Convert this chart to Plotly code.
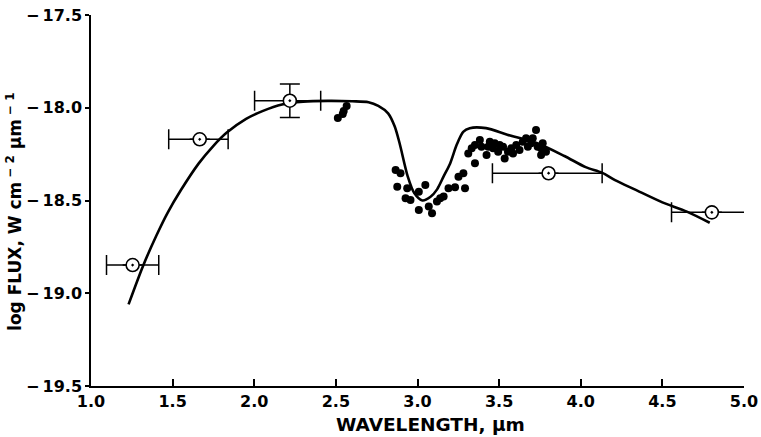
import plotly.graph_objects as go

# Photometric points (open circles with error bars)
phot_x = [1.255, 1.666, 2.218, 3.803, 4.803]
phot_y = [-18.848, -18.170, -17.962, -18.353, -18.564]
phot_xerr_minus = [0.16, 0.19, 0.216, 0.344, 0.247]
phot_xerr_plus = [0.16, 0.174, 0.189, 0.328, 0.30]
phot_yerr = [0.0, 0.0, 0.09, 0.0, 0.0]

# Spectroscopic points (filled dots)
spec_x = [2.566, 2.548, 2.542, 2.512,
          2.866, 2.896, 2.876, 2.937, 2.927, 2.957, 3.008, 3.048, 3.008, 3.069,
          3.089, 3.119, 3.139, 3.160, 3.190, 3.230, 3.251, 3.281, 3.291, 3.352,
          3.311, 3.332, 3.352, 3.382, 3.392, 3.423, 3.433, 3.443, 3.463, 3.473,
          3.494, 3.503, 3.524, 3.534, 3.554, 3.574, 3.585, 3.605, 3.625, 3.645,
          3.665, 3.676, 3.696, 3.706, 3.726, 3.736, 3.757, 3.767, 3.757, 3.787]
spec_y = [-17.991, -18.018, -18.034, -18.055,
          -18.336, -18.353, -18.426, -18.434, -18.488, -18.497, -18.453, -18.416, -18.551, -18.533,
          -18.569, -18.506, -18.488, -18.479, -18.434, -18.429, -18.372, -18.353, -18.434, -18.299,
          -18.246, -18.219, -18.201, -18.174, -18.210, -18.255, -18.210, -18.183, -18.219, -18.192,
          -18.237, -18.201, -18.210, -18.273, -18.237, -18.219, -18.246, -18.201, -18.228, -18.183,
          -18.165, -18.210, -18.192, -18.165, -18.120, -18.210, -18.219, -18.192, -18.255, -18.237]

# Model curve
model_x = [1.23, 1.32, 1.40, 1.47, 1.55, 1.66, 1.75, 1.83, 1.95, 2.05, 2.17, 2.30, 2.45,
           2.60, 2.70, 2.76, 2.82, 2.86, 2.89, 2.94, 2.98, 3.03, 3.08, 3.12, 3.16, 3.20,
           3.24, 3.28, 3.32, 3.42, 3.55, 3.73, 3.90, 4.03, 4.13, 4.21, 4.33, 4.50, 4.65, 4.79]
model_y = [-19.06, -18.85, -18.69, -18.565, -18.445, -18.30, -18.205, -18.135, -18.06, -18.018,
           -17.982, -17.967, -17.963, -17.965, -17.97, -17.99, -18.03, -18.10, -18.19, -18.37,
           -18.46, -18.50, -18.48, -18.44, -18.37, -18.30, -18.20, -18.13, -18.11, -18.11,
           -18.145, -18.19, -18.26, -18.32, -18.35, -18.39, -18.44, -18.51, -18.56, -18.62]

x_ticks = [1.0, 1.5, 2.0, 2.5, 3.0, 3.5, 4.0, 4.5, 5.0]
x_ticktext = ["1.0", "1.5", "2.0", "2.5", "3.0", "3.5", "4.0", "4.5", "5.0"]
y_ticks = [-19.5, -19.0, -18.5, -18.0, -17.5]
y_ticktext = ["\u2212\u200919.5", "\u2212\u200919.0", "\u2212\u200918.5", "\u2212\u200918.0", "\u2212\u200917.5"]

x_title = "WAVELENGTH, \u03bcm"
y_title = "log FLUX, W cm<sup> \u2212 2</sup> \u03bcm<sup> \u2212 1</sup>"

fig = go.Figure()

fig.add_trace(go.Scatter(
    x=model_x, y=model_y, mode="lines",
    line=dict(color="black", width=2.6, shape="spline", smoothing=0.8),
    showlegend=False, hoverinfo="skip"))

fig.add_trace(go.Scatter(
    x=spec_x, y=spec_y, mode="markers",
    marker=dict(color="black", size=8, line=dict(width=0)),
    showlegend=False))

fig.add_trace(go.Scatter(
    x=phot_x, y=phot_y, mode="markers",
    marker=dict(symbol="circle-dot", size=13, color="white",
                line=dict(color="black", width=1.6)),
    error_x=dict(type="data", symmetric=False, array=phot_xerr_plus,
                 arrayminus=phot_xerr_minus, color="black", thickness=1.5, width=10),
    error_y=dict(type="data", array=phot_yerr, color="black", thickness=1.5, width=10),
    showlegend=False))

font_family = "DejaVu Sans, Liberation Sans, sans-serif"

fig.update_layout(
    width=761, height=437,
    margin=dict(l=91, r=17, t=15, b=51),
    paper_bgcolor="white", plot_bgcolor="white",
    font=dict(family=font_family, color="black"),
    xaxis=dict(
        range=[1.0, 5.0], tickvals=x_ticks, ticktext=x_ticktext,
        ticks="inside", ticklen=7, tickwidth=1.5, tickcolor="black",
        ticklabeloverflow="allow", automargin=False,
        showline=True, linecolor="black", linewidth=1.5,
        showgrid=False, zeroline=False,
        tickfont=dict(size=16, family=font_family, weight="bold"),
    ),
    yaxis=dict(
        range=[-19.5, -17.5], tickvals=y_ticks, ticktext=y_ticktext,
        ticks="outside", ticklen=4, tickwidth=1.5, tickcolor="black",
        ticklabeloverflow="allow", automargin=False,
        showline=True, linecolor="black", linewidth=1.5,
        showgrid=False, zeroline=False,
        tickfont=dict(size=16, family=font_family, weight="bold"),
    ),
    annotations=[
        dict(text=x_title, xref="paper", yref="paper", x=0.52, y=-0.105,
             xanchor="center", yanchor="middle", showarrow=False,
             font=dict(size=18.5, family=font_family, weight="bold")),
        dict(text=y_title, xref="paper", yref="paper", x=-0.118, y=0.469,
             xanchor="center", yanchor="middle", showarrow=False, textangle=-90,
             font=dict(size=17, family=font_family, weight="bold")),
    ],
)

fig.write_html("out.html")
